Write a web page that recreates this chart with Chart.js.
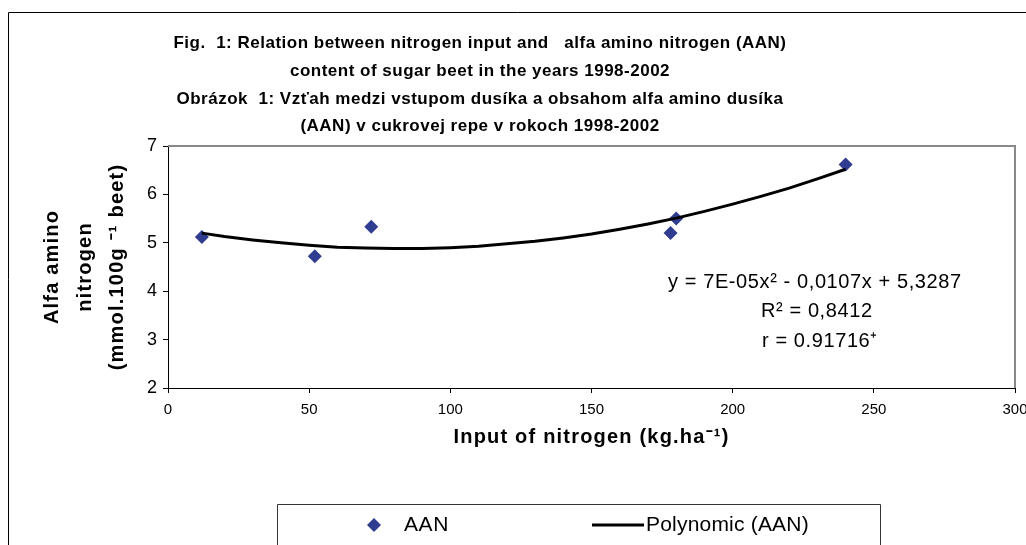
<!DOCTYPE html>
<html>
<head>
<meta charset="utf-8">
<script src="https://cdn.jsdelivr.net/npm/chart.js@4"></script>
<style>
html,body{margin:0;padding:0;background:#fff;}
#wrap{position:relative;width:1026px;height:545px;}
</style>
</head>
<body>
<div id="wrap"><canvas id="c" width="1026" height="545"></canvas></div>
<script>
// ---- data ----
const titleLines = [
  "Fig.  1: Relation between nitrogen input and   alfa amino nitrogen (AAN)",
  "content of sugar beet in the years 1998-2002",
  "Obrázok  1: Vzťah medzi vstupom dusíka a obsahom alfa amino dusíka",
  "(AAN) v cukrovej repe v rokoch 1998-2002"
];
const yTitleLines = ["Alfa amino", "nitrogen", "(mmol.100g \u207B\u00B9 beet)"];
const xTitle = "Input of nitrogen (kg.ha\u207B\u00B9)";
const equationLines = ["y = 7E-05x\u00B2 - 0,0107x + 5,3287", "R\u00B2 = 0,8412", "r = 0.91716\u207A"];

const seriesLabel = "AAN";
const trendLabel = "Polynomic (AAN)";

const nitrogenInput = [12, 52, 72, 178, 180, 240];
const aanValues     = [5.12, 4.72, 5.33, 5.20, 5.50, 6.62];

const trendX = [12, 20, 30, 40, 50, 60, 70, 80, 90, 100, 110, 120, 130, 140, 150, 160, 170, 180, 190, 200, 210, 220, 230, 240];
const trendY = [5.20, 5.13, 5.06, 5.00, 4.95, 4.91, 4.89, 4.88, 4.88, 4.90, 4.93, 4.98, 5.03, 5.10, 5.18, 5.28, 5.39, 5.51, 5.65, 5.80, 5.96, 6.13, 6.32, 6.52];

const xTicks = [0, 50, 100, 150, 200, 250, 300];
const yTicks = [2, 3, 4, 5, 6, 7];

const FONT = "'Liberation Sans', Arial, sans-serif";
const MARKER = '#2F3C8F';

function spaced(ctx, px) { if ('letterSpacing' in ctx) ctx.letterSpacing = px + 'px'; }

const decorations = {
  id: 'decorations',
  beforeDraw(chart) {
    const ctx = chart.ctx;
    ctx.save();
    ctx.fillStyle = '#fff';
    ctx.fillRect(0, 0, chart.width, chart.height);
    ctx.strokeStyle = '#000';
    ctx.lineWidth = 1;
    ctx.beginPath();
    ctx.moveTo(8.5, 560);
    ctx.lineTo(8.5, 12.5);
    ctx.lineTo(1040, 12.5);
    ctx.stroke();
    ctx.restore();
  },
  afterDraw(chart) {
    const ctx = chart.ctx;
    const a = chart.chartArea;
    ctx.save();
    ctx.strokeStyle = '#888';
    ctx.lineWidth = 2;
    ctx.beginPath();
    ctx.moveTo(a.left, a.top);
    ctx.lineTo(a.right, a.top);
    ctx.lineTo(a.right, a.bottom);
    ctx.stroke();

    ctx.fillStyle = '#000';
    ctx.textBaseline = 'middle';
    ctx.textAlign = 'center';
    // title
    ctx.font = "bold 17px " + FONT;
    spaced(ctx, 0.5);
    const ty = [43, 71, 99, 126];
    titleLines.forEach((t, i) => ctx.fillText(t, 480, ty[i]));

    // x title
    ctx.font = "bold 20px " + FONT;
    spaced(ctx, 1.2);
    ctx.fillText(xTitle, (a.left + a.right) / 2, 437);

    // y title (rotated)
    const yc = (a.top + a.bottom) / 2;
    const xs = [52, 85, 117];
    yTitleLines.forEach((t, i) => {
      ctx.save();
      ctx.translate(xs[i], yc);
      ctx.rotate(-Math.PI / 2);
      ctx.fillText(t, 0, 0);
      ctx.restore();
    });

    // equation text
    ctx.font = "20px " + FONT;
    spaced(ctx, 0.6);
    ctx.textAlign = 'left';
    ctx.fillText(equationLines[0], 668, 282);
    ctx.fillText(equationLines[1], 761, 311);
    ctx.fillText(equationLines[2], 762, 341);

    // legend box
    ctx.strokeStyle = '#333';
    ctx.lineWidth = 1;
    ctx.beginPath();
    ctx.moveTo(277.5, 560);
    ctx.lineTo(277.5, 504.5);
    ctx.lineTo(880.5, 504.5);
    ctx.lineTo(880.5, 560);
    ctx.stroke();
    const ly = 525;
    ctx.fillStyle = MARKER;
    ctx.beginPath();
    ctx.moveTo(374, ly - 7);
    ctx.lineTo(381, ly);
    ctx.lineTo(374, ly + 7);
    ctx.lineTo(367, ly);
    ctx.closePath();
    ctx.fill();
    ctx.fillStyle = '#000';
    ctx.font = "21px " + FONT;
    spaced(ctx, 0.6);
    ctx.fillText(seriesLabel, 404, ly);
    ctx.strokeStyle = '#000';
    ctx.lineWidth = 3;
    ctx.beginPath();
    ctx.moveTo(592, ly);
    ctx.lineTo(644, ly);
    ctx.stroke();
    spaced(ctx, 0.2);
    ctx.fillText(trendLabel, 646, ly);
    ctx.restore();
  }
};

new Chart(document.getElementById('c'), {
  type: 'scatter',
  data: {
    datasets: [
      {
        label: trendLabel,
        data: trendX.map((x, i) => ({x: x, y: trendY[i]})),
        showLine: true,
        borderColor: '#000',
        borderWidth: 3,
        pointRadius: 0,
        tension: 0,
        order: 0
      },
      {
        label: seriesLabel,
        data: nitrogenInput.map((x, i) => ({x: x, y: aanValues[i]})),
        pointStyle: 'rectRot',
        pointRadius: 7,
        backgroundColor: MARKER,
        borderColor: MARKER,
        borderWidth: 0,
        order: 1
      }
    ]
  },
  plugins: [decorations],
  options: {
    responsive: false,
    animation: false,
    devicePixelRatio: 1,
    layout: { padding: { left: 0, top: 146, right: 11, bottom: 0 } },
    plugins: { legend: { display: false }, tooltip: { enabled: false }, title: { display: false } },
    scales: {
      x: {
        type: 'linear',
        min: 0, max: 300,
        afterBuildTicks: s => { s.ticks = xTicks.map(v => ({value: v})); },
        afterFit: s => { s.height = 157; s.paddingLeft = 0; s.paddingRight = 0; },
        grid: { drawOnChartArea: false, drawTicks: true, tickLength: 5, color: '#000' },
        border: { color: '#000', width: 1 },
        ticks: { color: '#000', font: { family: FONT, size: 15 }, padding: 8, maxRotation: 0, autoSkip: false }
      },
      y: {
        type: 'linear',
        min: 2, max: 7,
        afterBuildTicks: s => { s.ticks = yTicks.map(v => ({value: v})); },
        afterFit: s => { s.width = 168; s.paddingTop = 0; s.paddingBottom = 0; },
        grid: { drawOnChartArea: false, drawTicks: true, tickLength: 5, color: '#000' },
        border: { color: '#000', width: 1 },
        ticks: { color: '#000', font: { family: FONT, size: 18 }, padding: 6 }
      }
    }
  }
});
</script>
</body>
</html>
